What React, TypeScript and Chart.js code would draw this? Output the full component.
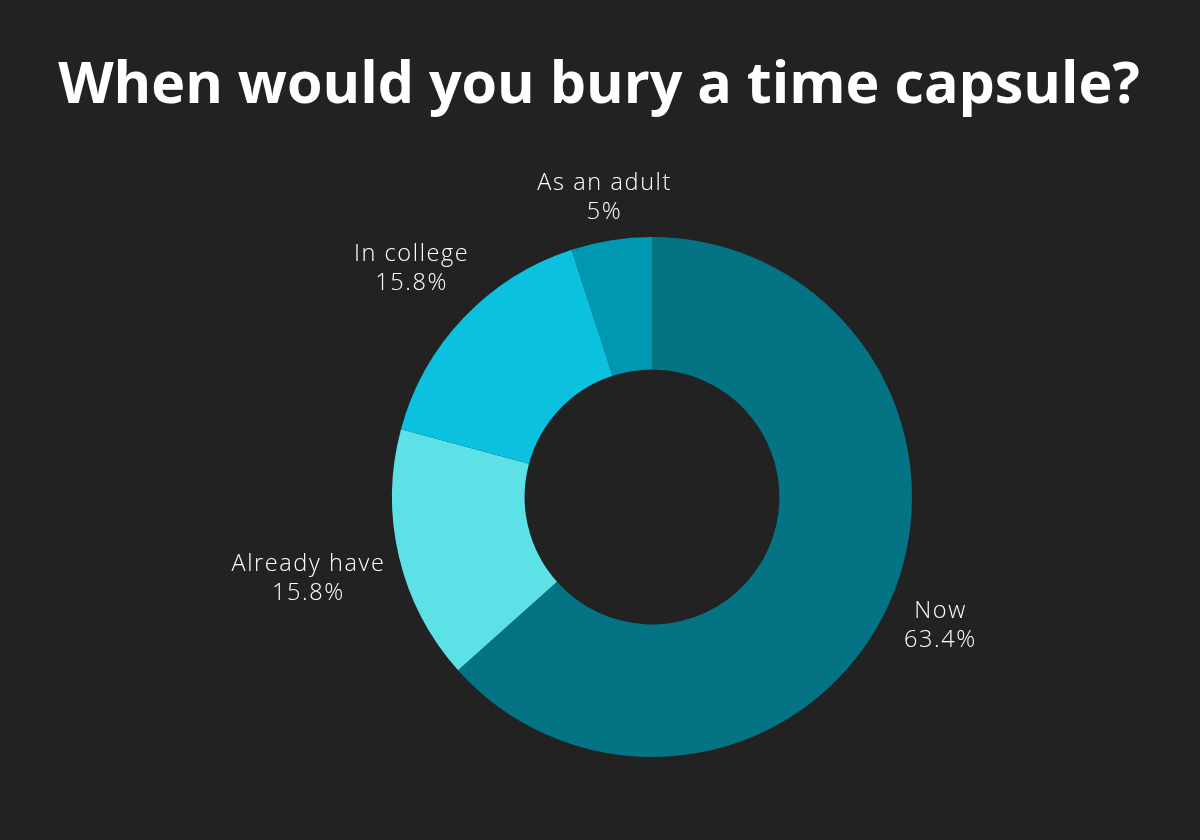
import React, { useEffect, useRef } from "react";
import { Chart, registerables } from "chart.js";

Chart.register(...registerables);

const titleText = "When would you bury a time capsule?";
const categories = ["Now", "Already have", "In college", "As an adult"];
const values = [63.4, 15.8, 15.8, 5];
const valueLabels = ["63.4%", "15.8%", "15.8%", "5%"];
const colors = ["#047383", "#5ce1e6", "#0cc0df", "#0097b2"];

const BG = "#222222";
const LABEL_FONT = '300 23.5px "Open Sans", Lato, sans-serif';
const LINE_H = 29;

const titlePlugin = {
  id: "bigTitle",
  afterDraw(chart: any) {
    const ctx = chart.ctx;
    ctx.save();
    let size = 56;
    const target = 1082;
    ctx.font = `700 ${size}px "Open Sans", Lato, sans-serif`;
    const w = ctx.measureText(titleText).width;
    size = size * (target / w);
    ctx.font = `700 ${size}px "Open Sans", Lato, sans-serif`;
    ctx.fillStyle = "#ffffff";
    ctx.textAlign = "center";
    ctx.textBaseline = "alphabetic";
    ctx.fillText(titleText, 599, 103);
    ctx.restore();
  },
};

const labelPlugin = {
  id: "outLabels",
  afterDatasetsDraw(chart: any) {
    const ctx = chart.ctx;
    const meta = chart.getDatasetMeta(0);
    ctx.save();
    ctx.font = LABEL_FONT;
    try {
      (ctx as any).letterSpacing = "1.6px";
    } catch (e) {}
    ctx.fillStyle = "#ffffff";
    ctx.textAlign = "center";
    ctx.textBaseline = "middle";
    meta.data.forEach((arc: any, i: number) => {
      const { x, y, startAngle, endAngle, outerRadius } = arc.getProps(
        ["x", "y", "startAngle", "endAngle", "outerRadius"],
        true
      );
      const mid = (startAngle + endAngle) / 2;
      const dx = Math.cos(mid);
      const dy = Math.sin(mid);
      const lines = [categories[i], valueLabels[i]];
      const bw = Math.max(...lines.map((l) => ctx.measureText(l).width));
      const bh = LINE_H * 2 - 4;
      const target = outerRadius + 12;
      const nearest = (t: number) => {
        const cx = x + dx * t;
        const cy = y + dy * t;
        const nx = Math.max(cx - bw / 2, Math.min(x, cx + bw / 2));
        const ny = Math.max(cy - bh / 2, Math.min(y, cy + bh / 2));
        return Math.hypot(nx - x, ny - y);
      };
      let lo = 0;
      let hi = outerRadius + 400;
      for (let k = 0; k < 50; k++) {
        const m = (lo + hi) / 2;
        if (nearest(m) < target) lo = m;
        else hi = m;
      }
      const cx = x + dx * lo;
      const cy = y + dy * lo;
      ctx.fillText(lines[0], cx, cy - LINE_H / 2);
      ctx.fillText(lines[1], cx, cy + LINE_H / 2);
    });
    ctx.restore();
  },
};

export default function App() {
  const ref = useRef<HTMLCanvasElement | null>(null);

  useEffect(() => {
    document.body.style.margin = "0";
    document.body.style.background = BG;
    const canvas = ref.current;
    if (!canvas) return;
    const chart = new Chart(canvas, {
      type: "doughnut",
      data: {
        labels: categories,
        datasets: [
          {
            data: values,
            backgroundColor: colors,
            borderWidth: 0,
          },
        ],
      },
      options: {
        animation: false,
        responsive: false,
        maintainAspectRatio: false,
        cutout: "49%",
        layout: {
          padding: { left: 392, right: 288, top: 237, bottom: 83 },
        },
        plugins: {
          legend: { display: false },
          title: { display: false },
          tooltip: { enabled: false },
        },
      },
      plugins: [titlePlugin, labelPlugin],
    });
    return () => chart.destroy();
  }, []);

  return (
    <div style={{ width: 1200, height: 840, background: BG }}>
      <canvas ref={ref} width={1200} height={840} style={{ display: "block" }} />
    </div>
  );
}
